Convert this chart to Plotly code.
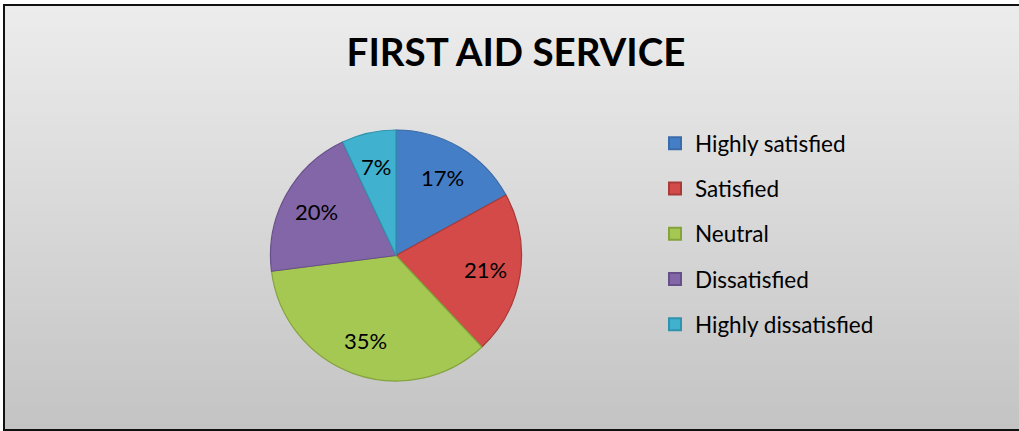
import math
import plotly.graph_objects as go

# Survey responses for the first aid service
categories = ["Highly satisfied", "Satisfied", "Neutral", "Dissatisfied", "Highly dissatisfied"]
shares = [17, 21, 35, 20, 7]
slice_colors = ["#447EC6", "#D44A48", "#A4C852", "#8366A8", "#40B2D0"]
edge_colors = ["#3B6BA8", "#A83A37", "#84A33D", "#67508A", "#2F93AD"]

W, H = 1019, 431
pie_x = [270 / W, 522 / W]
pie_y = [1 - 381 / H, 1 - 130 / H]

fig = go.Figure()

fig.add_trace(go.Pie(
    labels=categories,
    values=shares,
    sort=False,
    direction="clockwise",
    rotation=0,
    marker=dict(colors=slice_colors, line=dict(color=edge_colors, width=1.2)),
    textinfo="none",
    domain=dict(x=pie_x, y=pie_y),
    showlegend=False,
    hoverinfo="label+percent",
))

# Percentage labels placed at each slice's mid-angle, ~71% of the radius out
cx_px = (pie_x[0] + pie_x[1]) / 2 * W
cy_px = (1 - (pie_y[0] + pie_y[1]) / 2) * H
radius_px = (pie_x[1] - pie_x[0]) * W / 2
total = sum(shares)
annotations = []
cum = 0
for v in shares:
    mid = (cum + v / 2) / total * 2 * math.pi
    cum += v
    r = 0.72 * radius_px
    px = cx_px + r * math.sin(mid)
    py = cy_px - r * math.cos(mid)
    annotations.append(dict(
        x=px / W, y=1 - py / H, xref="paper", yref="paper",
        text=f"{round(v / total * 100)}%", showarrow=False,
        xanchor="center", yanchor="middle",
        font=dict(family="Lato", size=22, color="black"),
    ))

# Legend entries with square keys, one group each for even spacing
for name, col, edge in zip(categories, slice_colors, edge_colors):
    fig.add_trace(go.Scatter(
        x=[None], y=[None], mode="markers", name=name,
        legendgroup=name,
        marker=dict(symbol="square", size=14, color=col, line=dict(color=edge, width=1)),
    ))

# Vertical grey gradient behind the chart (bands overlap to hide seams)
shapes = []
n_bands = 60
top_rgb = (236, 236, 236)
bot_rgb = (196, 196, 196)
y_top = 1 - 5 / H
y_bot = 1 - 430 / H
step = (y_top - y_bot) / n_bands
for i in range(n_bands):
    t = i / (n_bands - 1)
    r, g, b = (round(a + (c - a) * t) for a, c in zip(top_rgb, bot_rgb))
    y1 = y_top - step * i
    y0 = max(y_bot, y1 - step * 2.2)
    shapes.append(dict(type="rect", xref="paper", yref="paper", layer="below",
                       x0=4 / W, x1=1.01, y0=y0, y1=y1,
                       fillcolor=f"rgb({r},{g},{b})", line=dict(width=0)))
# Chart frame
shapes.append(dict(type="rect", xref="paper", yref="paper", layer="above",
                   x0=4 / W, x1=1.05, y0=y_bot, y1=y_top,
                   fillcolor="rgba(0,0,0,0)", line=dict(color="#111111", width=2)))

fig.update_layout(
    width=W, height=H,
    margin=dict(l=0, r=0, t=0, b=0),
    paper_bgcolor="white",
    plot_bgcolor="rgba(0,0,0,0)",
    shapes=shapes,
    annotations=annotations,
    title=dict(text="<b>FIRST AID SERVICE</b>", x=516 / W, xanchor="center",
               y=1 - 53 / H, yanchor="middle",
               font=dict(family="Lato", size=38.5, color="black")),
    xaxis=dict(visible=False, domain=[0.95, 1.0]),
    yaxis=dict(visible=False),
    legend=dict(x=655 / W, y=1 - 122 / H, xanchor="left", yanchor="top",
                bgcolor="rgba(0,0,0,0)", tracegroupgap=13,
                font=dict(family="Lato", size=22.5, color="black"),
                itemsizing="constant"),
)

fig.write_html("out.html")
